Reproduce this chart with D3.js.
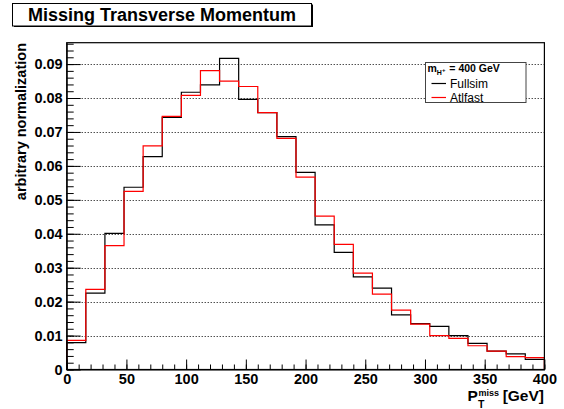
<!DOCTYPE html>
<html><head><meta charset="utf-8">
<script src="https://cdn.jsdelivr.net/npm/d3@7"></script>
<style>
body{margin:0;background:#fff;}
svg{display:block;font-family:"Liberation Sans",Arial,sans-serif;}
</style></head>
<body>
<svg id="c" width="564" height="409"></svg>
<script>
const binLow = [0,16,32,48,64,80,96,112,128,144,160,176,192,208,224,240,256,272,288,304,320,336,352,368,384];
const binWidth = 16;
const fullsim = [0.0079,0.0225,0.0401,0.0537,0.0627,0.0743,0.0817,0.0839,0.0917,0.0796,0.0757,0.0686,0.0581,0.0426,0.0345,0.0273,0.0240,0.0161,0.0135,0.0127,0.0100,0.0077,0.0054,0.0046,0.0030];
const atlfast = [0.0086,0.0236,0.0365,0.0525,0.0659,0.0746,0.0808,0.0881,0.0850,0.0834,0.0757,0.0681,0.0567,0.0452,0.0369,0.0284,0.0222,0.0175,0.0134,0.0100,0.0092,0.0070,0.0054,0.0038,0.0035];
const yTicks = [0,0.01,0.02,0.03,0.04,0.05,0.06,0.07,0.08,0.09];
const xTicks = [0,50,100,150,200,250,300,350,400];
const seriesNames = ["Fullsim","Atlfast"];
const seriesColors = ["#000000","#ff0000"];

const svg = d3.select("#c");
const L=66.7, R=544.4, T=42.7, B=369.5;
const x = d3.scaleLinear().domain([0,400]).range([L,R]);
const y = d3.scaleLinear().domain([0,0.0963]).range([B,T]);

// title box
svg.append("rect").attr("x",14).attr("y",4.5).attr("width",299).attr("height",22.5).attr("fill","#000");
svg.append("rect").attr("x",12.5).attr("y",3.5).attr("width",299).attr("height",22.5).attr("fill","#fff").attr("stroke","#000").attr("stroke-width",1);
svg.append("text").attr("x",162).attr("y",21).attr("text-anchor","middle")
  .attr("font-size",18).attr("font-weight","bold").text("Missing Transverse Momentum");

// grid
svg.append("g").selectAll("line").data(yTicks.filter(d=>d>0)).join("line")
  .attr("x1",L).attr("x2",R).attr("y1",d=>Math.round(y(d))+0.5).attr("y2",d=>Math.round(y(d))+0.5)
  .attr("stroke","#000").attr("stroke-width",1).attr("stroke-dasharray","1,2");

// histograms
const line = d3.line().x(d=>x(d[0])).y(d=>y(d[1])).curve(d3.curveStepAfter);
[fullsim, atlfast].forEach((vals,k)=>{
  const pts = [[0,0]].concat(binLow.map((b,i)=>[b,vals[i]])).concat([[binLow[binLow.length-1]+binWidth, vals[vals.length-1]],[400,0]]);
  svg.append("path").attr("d",line(pts)).attr("fill","none").attr("stroke",seriesColors[k]).attr("stroke-width",1.2);
});

// frame
svg.append("rect").attr("x",L).attr("y",T).attr("width",R-L).attr("height",B-T).attr("fill","none").attr("stroke","#000").attr("stroke-width",1.2);

// y axis minor
const yMinor = d3.range(0,0.0963,0.002);
svg.append("g").attr("transform",`translate(${L},0)`)
  .call(d3.axisLeft(y).tickValues(yMinor).tickSizeInner(-7).tickSizeOuter(0).tickFormat(""))
  .call(g=>g.select(".domain").remove());
const gy = svg.append("g").attr("transform",`translate(${L},0)`)
  .call(d3.axisLeft(y).tickValues(yTicks).tickSizeInner(-14).tickSizeOuter(0).tickPadding(4)
    .tickFormat(d=>d===0?"0":d.toFixed(2)));
gy.selectAll("text").attr("font-size",14.5).attr("font-weight","bold").attr("font-family","Liberation Sans, Arial, sans-serif").attr("fill","#000");
gy.select(".domain").attr("stroke","#000");
svg.selectAll(".tick line").attr("stroke","#000");

// x axis minor
const xMinor = d3.range(0,401,10);
svg.append("g").attr("transform",`translate(0,${B})`)
  .call(d3.axisBottom(x).tickValues(xMinor).tickSizeInner(-5).tickSizeOuter(0).tickFormat(""))
  .call(g=>g.select(".domain").remove());
const gx = svg.append("g").attr("transform",`translate(0,${B})`)
  .call(d3.axisBottom(x).tickValues(xTicks).tickSizeInner(-10).tickSizeOuter(0).tickPadding(4).tickFormat(d3.format("d")));
gx.selectAll("text").attr("font-size",14.5).attr("font-weight","bold").attr("font-family","Liberation Sans, Arial, sans-serif").attr("fill","#000");
svg.selectAll(".tick line").attr("stroke","#000");

// axis titles
svg.append("text").attr("transform","translate(25.5,43) rotate(-90)").attr("text-anchor","end")
  .attr("font-size",14.5).attr("font-weight","bold").text("arbitrary normalization");
const xt = svg.append("g").attr("font-weight","bold");
xt.append("text").attr("x",467.5).attr("y",401).attr("font-size",15.5).text("P");
xt.append("text").attr("x",478.5).attr("y",395.5).attr("font-size",9).text("miss");
xt.append("text").attr("x",478).attr("y",407.8).attr("font-size",10.5).text("T");
xt.append("text").attr("x",544).attr("y",401).attr("text-anchor","end").attr("font-size",15.5).text("[GeV]");

// legend
const lg = svg.append("g");
lg.append("rect").attr("x",425.5).attr("y",62.5).attr("width",100.5).attr("height",40).attr("fill","#fff").attr("stroke","#444").attr("stroke-width",1);
const hd = lg.append("text").attr("x",427.5).attr("y",72).attr("font-weight","bold").attr("font-size",10.5);
hd.append("tspan").text("m");
hd.append("tspan").attr("font-size",7).attr("dy",2.5).text("H");
hd.append("tspan").attr("font-size",6).attr("dy",-3).text("+");
hd.append("tspan").attr("dy",0.5).attr("dx",1).text(" = 400 GeV");
seriesNames.forEach((n,i)=>{
  const yy = 83.5 + i*14;
  lg.append("line").attr("x1",431.5).attr("x2",446).attr("y1",yy).attr("y2",yy).attr("stroke",seriesColors[i]).attr("stroke-width",1.2);
  lg.append("text").attr("x",450).attr("y",yy+4).attr("font-size",12).text(n);
});
</script>
</body></html>
